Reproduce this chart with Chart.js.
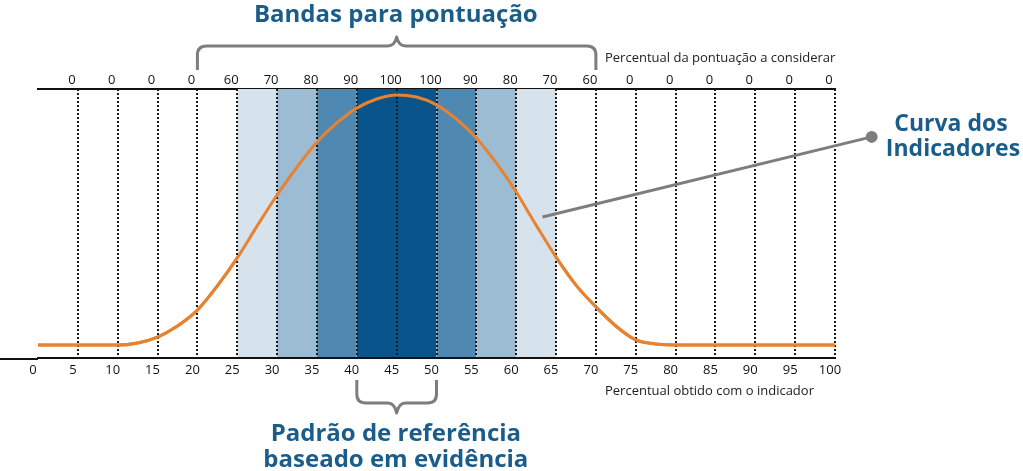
<!DOCTYPE html>
<html>
<head>
<meta charset="utf-8">
<script src="https://cdn.jsdelivr.net/npm/chart.js@4.4.0/dist/chart.umd.min.js"></script>
<style>
  body { margin: 0; background: #fff; }
  canvas { display: block; }
</style>
</head>
<body>
<canvas id="chart" width="1023" height="471"></canvas>
<script>
// percentual obtido com o indicador (eixo de baixo) e pontuação (eixo de cima)
var topLabels = ['0', '0', '0', '0', '60', '70', '80', '90', '100', '100', '90', '80', '70', '60', '0', '0', '0', '0', '0', '0'];

// bandas de pontuação
var bandFrom = [25, 30, 35, 40, 50, 55, 60];
var bandTo = [30, 35, 40, 50, 55, 60, 65];
var bandLevel = [0, 1, 2, 3, 2, 1, 0];
var bandColors = ['#d6e3ed', '#9bbcd3', '#4f88b1', '#0a548c'];

// curva dos indicadores
var curveX = [0, 5, 10, 12.5, 15, 17.5, 20, 22.5, 25, 27.5, 30, 32.5, 35, 37.5, 40, 42.5, 45, 47.5, 50,
              52.5, 55, 57.5, 60, 62.5, 65, 67.5, 70, 72.5, 75, 77.5, 80, 85, 90, 95, 100];
var curveY = [4.8, 4.8, 4.8, 5.6, 7.8, 11.9, 17.8, 26.8, 37.2, 49.1, 60.6, 71.0, 80.3, 87.4, 92.9, 96.3, 97.8, 97.0, 94.1,
              88.8, 81.8, 72.5, 61.7, 49.4, 37.5, 27.1, 19.0, 11.9, 6.7, 5.2, 4.8, 4.8, 4.8, 4.8, 4.8];

var blue = '#1a5d8a';
var grey = '#7d7d7d';
var font = '"Open Sans", "DejaVu Sans", sans-serif';

var datasets = [];
for (var i = 0; i < bandFrom.length; i++) {
    datasets.push({
        data: [{ x: bandFrom[i], y: 100 }, { x: bandTo[i], y: 100 }],
        fill: 'origin',
        backgroundColor: bandColors[bandLevel[i]],
        borderWidth: 0,
        pointRadius: 0
    });
}
var curvePoints = [];
for (var j = 0; j < curveX.length; j++) {
    curvePoints.push({ x: curveX[j], y: curveY[j] });
}
datasets.push({
    data: curvePoints,
    borderColor: '#e8822e',
    borderWidth: 3,
    pointRadius: 0,
    fill: false,
    cubicInterpolationMode: 'monotone'
});
var curveIndex = datasets.length - 1;

function brace(ctx, x1, x2, yEnd, yBar, yTip) {
    var s = yBar > yEnd ? 1 : -1;
    var r = 9;
    var xm = (x1 + x2) / 2;
    ctx.beginPath();
    ctx.moveTo(x1, yEnd);
    ctx.lineTo(x1, yBar - s * r);
    ctx.quadraticCurveTo(x1, yBar, x1 + r, yBar);
    ctx.lineTo(xm - 9, yBar);
    ctx.quadraticCurveTo(xm - 2, yBar, xm, yTip);
    ctx.quadraticCurveTo(xm + 2, yBar, xm + 9, yBar);
    ctx.lineTo(x2 - r, yBar);
    ctx.quadraticCurveTo(x2, yBar, x2, yBar - s * r);
    ctx.lineTo(x2, yEnd);
    ctx.stroke();
}

var annotations = {
    id: 'annotations',
    afterDraw: function (chart) {
        var ctx = chart.ctx;
        var x = chart.scales.x;
        var y = chart.scales.y;
        var area = chart.chartArea;

        // curva por cima das linhas pontilhadas
        ctx.save();
        chart.getDatasetMeta(curveIndex).controller.draw();
        ctx.restore();

        ctx.save();
        // eixo de baixo prolongado à esquerda
        ctx.strokeStyle = '#111';
        ctx.lineWidth = 2;
        ctx.beginPath();
        ctx.moveTo(0, area.bottom + 1);
        ctx.lineTo(area.left, area.bottom + 1);
        ctx.stroke();

        ctx.strokeStyle = grey;
        ctx.lineWidth = 3;
        ctx.lineJoin = 'round';
        ctx.lineCap = 'butt';
        brace(ctx, x.getPixelForValue(20), x.getPixelForValue(70), 70, 46, 37);
        brace(ctx, x.getPixelForValue(40), x.getPixelForValue(50), 380, 403, 413);

        // seta da curva
        var px1 = x.getPixelForValue(63.3), py1 = y.getPixelForValue(52.4);
        var px2 = x.getPixelForValue(104.6), py2 = y.getPixelForValue(82.2);
        ctx.beginPath();
        ctx.moveTo(px1, py1);
        ctx.lineTo(px2, py2);
        ctx.stroke();
        ctx.fillStyle = grey;
        ctx.beginPath();
        ctx.arc(px2, py2, 6, 0, Math.PI * 2);
        ctx.fill();

        ctx.fillStyle = blue;
        ctx.textAlign = 'center';
        ctx.textBaseline = 'alphabetic';
        ctx.font = 'bold 24px ' + font;
        var xm = x.getPixelForValue(44.9);
        ctx.fillText('Bandas para pontuação', xm, 22);
        ctx.fillText('Padrão de referência', xm, 441);
        ctx.fillText('baseado em evidência', xm, 467);
        ctx.font = 'bold 23px ' + font;
        ctx.fillText('Curva dos', 951, 131);
        ctx.fillText('Indicadores', 953, 156);

        ctx.fillStyle = '#222';
        ctx.textAlign = 'left';
        ctx.font = '13px ' + font;
        ctx.fillText('Percentual da pontuação a considerar', 605, 62);
        ctx.fillText('Percentual obtido com o indicador', 605, 395);
        ctx.restore();
    }
};

var ctxChart = document.getElementById('chart').getContext('2d');
var chart = new Chart(ctxChart, {
    type: 'line',
    data: { datasets: datasets },
    plugins: [annotations],
    options: {
        responsive: false,
        animation: false,
        events: [],
        layout: { padding: { left: 38, right: 188, top: 65, bottom: 89 } },
        plugins: { legend: { display: false }, tooltip: { enabled: false } },
        scales: {
            x: {
                type: 'linear',
                position: 'bottom',
                min: 0,
                max: 100,
                afterFit: function (scale) { scale.height = 24; },
                grid: {
                    z: 1,
                    drawTicks: false,
                    lineWidth: 2,
                    color: function (c) { return c.tick && c.tick.value === 0 ? 'rgba(0,0,0,0)' : '#1a1a1a'; }
                },
                border: { display: true, color: '#111', width: 2, dash: [2, 2], z: 2 },
                ticks: {
                    stepSize: 5,
                    autoSkip: false,
                    maxRotation: 0,
                    padding: 4,
                    labelOffset: -5,
                    color: '#111',
                    font: { family: font, size: 13 }
                }
            },
            x2: {
                type: 'linear',
                position: 'top',
                min: 0,
                max: 100,
                afterFit: function (scale) { scale.height = 24; },
                grid: { display: false, drawTicks: false },
                border: { display: true, color: '#111', width: 2 },
                ticks: {
                    stepSize: 5,
                    autoSkip: false,
                    maxRotation: 0,
                    padding: 1,
                    labelOffset: -6,
                    color: '#111',
                    font: { family: font, size: 13 },
                    callback: function (value) { return value === 0 ? '' : topLabels[value / 5 - 1]; }
                }
            },
            y: { display: false, min: 0, max: 100 }
        }
    }
});
</script>
</body>
</html>
